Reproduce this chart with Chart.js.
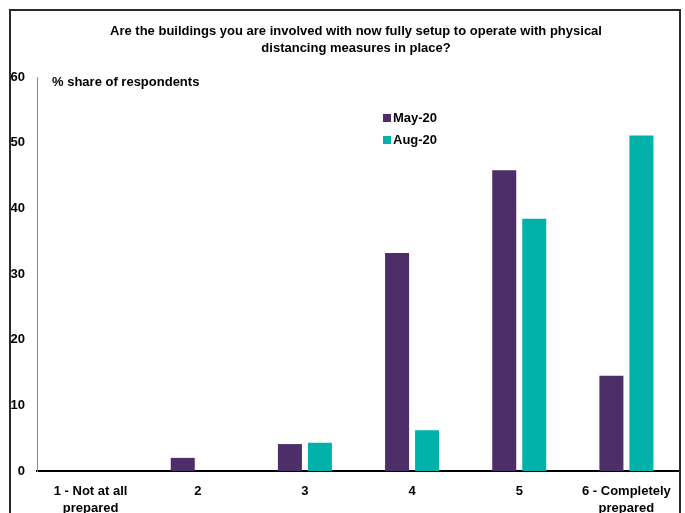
<!DOCTYPE html>
<html>
<head>
<meta charset="utf-8">
<script src="https://cdn.jsdelivr.net/npm/chart.js@4"></script>
<style>
  html, body { margin: 0; padding: 0; background: #fff; }
  #wrap { position: relative; width: 685px; height: 513px; overflow: hidden; }
  #frame { position: absolute; left: 9px; top: 9px; width: 672px; height: 520px;
           border: 2px solid #2a2a2a; box-sizing: border-box; pointer-events: none; }
  canvas { position: absolute; left: 0; top: 0; }
</style>
</head>
<body>
<div id="wrap">
  <canvas id="chart" width="685" height="513"></canvas>
  <div id="frame"></div>
</div>
<script>
const FONT = "'Liberation Sans Narrow', 'Arial Narrow', 'Liberation Sans', Arial, sans-serif";

const categories = [
  ["1 - Not at all", "prepared"],
  "2",
  "3",
  "4",
  "5",
  ["6 - Completely", "prepared"],
];
const may20 = [0, 2.0, 4.1, 33.2, 45.8, 14.5];
const aug20 = [0, 0, 4.3, 6.2, 38.4, 51.1];
const seriesNames = ["May-20", "Aug-20"];
const seriesColors = ["#4d2e68", "#00b2a9"];
const titleLines = [
  "Are the buildings you are involved with now fully setup to operate with physical",
  "distancing measures in place?",
];
const axisTitle = "% share of respondents";

// title, y-axis caption and legend
const decorations = {
  id: "decorations",
  afterDraw(chart) {
    const ctx = chart.ctx;
    ctx.save();
    ctx.fillStyle = "#000";
    ctx.textBaseline = "middle";
    ctx.font = "bold 13px " + FONT;
    ctx.textAlign = "center";
    ctx.fillText(titleLines[0], 356, 31);
    ctx.fillText(titleLines[1], 356, 48);

    ctx.textAlign = "left";
    ctx.fillText(axisTitle, 52, 82);

    chart.data.datasets.forEach((ds, i) => {
      const y = 118 + i * 22;
      ctx.fillStyle = ds.backgroundColor;
      ctx.fillRect(383, y - 4, 8, 8);
      ctx.fillStyle = "#000";
      ctx.fillText(ds.label, 393, y);
    });
    ctx.restore();
  },
};

new Chart(document.getElementById("chart"), {
  type: "bar",
  data: {
    labels: categories,
    datasets: [
      { label: seriesNames[0], data: may20, backgroundColor: seriesColors[0] },
      { label: seriesNames[1], data: aug20, backgroundColor: seriesColors[1] },
    ],
  },
  options: {
    responsive: false,
    animation: false,
    events: [],
    layout: { padding: { top: 77, right: 5, left: 0, bottom: 0 } },
    datasets: {
      bar: { categoryPercentage: 0.56, barPercentage: 0.8 },
    },
    plugins: {
      legend: { display: false },
      title: { display: false },
      tooltip: { enabled: false },
    },
    scales: {
      x: {
        afterFit(scale) { scale.height = 42; },
        grid: { display: false, drawTicks: false },
        border: { display: true, color: "#000", width: 2 },
        ticks: {
          padding: 12,
          maxRotation: 0,
          autoSkip: false,
          color: "#000",
          font: { family: FONT, size: 13, weight: "bold", lineHeight: 1.3 },
        },
      },
      y: {
        min: 0,
        max: 60,
        afterFit(scale) { scale.width = 37; },
        grid: { display: false, drawTicks: false },
        border: { display: true, color: "#888", width: 1 },
        ticks: {
          stepSize: 10,
          padding: 12,
          color: "#000",
          font: { family: FONT, size: 13, weight: "bold" },
        },
      },
    },
  },
  plugins: [decorations],
});
</script>
</body>
</html>
